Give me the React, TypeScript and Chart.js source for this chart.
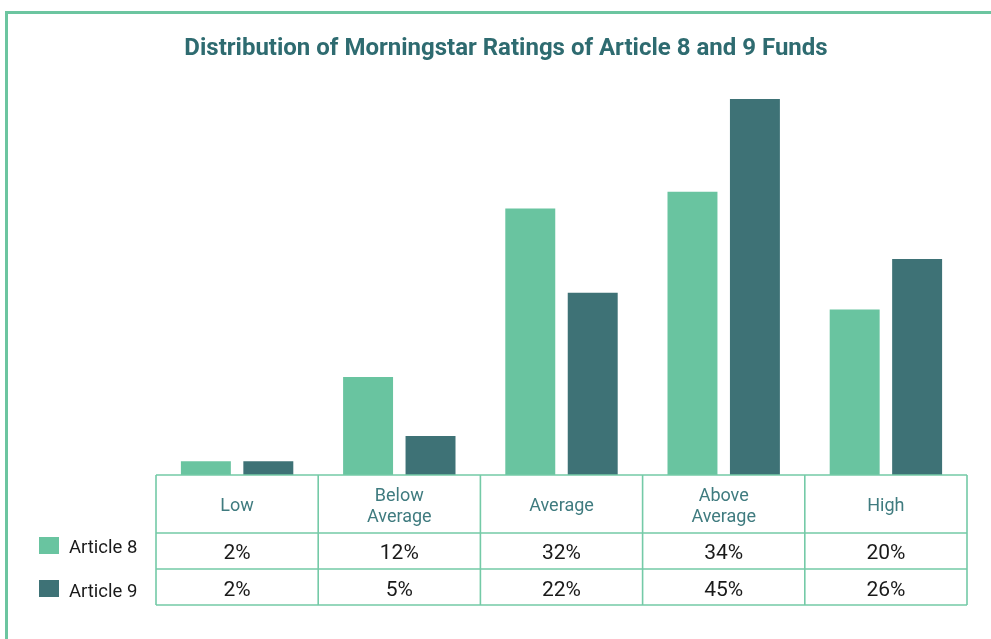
import React, { useEffect, useRef } from "react";
import { Chart, registerables } from "chart.js";

Chart.register(...registerables);

const TITLE = "Distribution of Morningstar Ratings of Article 8 and 9 Funds";
const categories: string[][] = [["Low"], ["Below", "Average"], ["Average"], ["Above", "Average"], ["High"]];
const seriesNames = ["Article 8", "Article 9"];
const article8 = [2, 12, 32, 34, 20];
const article9 = [2, 5, 22, 45, 26];
const seriesColors = ["#69c4a0", "#3e7276"];

const FRAME = "#6cc5a0";
const GRID = "#74caa7";
const TITLE_COLOR = "#2e6b70";
const HEADER_COLOR = "#3f7b7f";
const TEXT_COLOR = "#1a1a1a";
const FONT = "Roboto, 'Noto Sans', sans-serif";

const tablePlugin = {
  id: "tablePlugin",
  afterDraw(chart: any) {
    const ctx = chart.ctx as CanvasRenderingContext2D;
    const { left, right } = chart.chartArea;
    const n = categories.length;
    const colW = (right - left) / n;
    const top = 475;
    const hb = 533;
    const r1 = 569;
    const r2 = 605;
    ctx.save();
    // frame
    ctx.fillStyle = FRAME;
    ctx.fillRect(5, 11, chart.width - 5, 3);
    ctx.fillRect(5, 11, 3, chart.height - 11);

    // title
    ctx.fillStyle = TITLE_COLOR;
    ctx.font = `bold 24px ${FONT}`;
    ctx.textAlign = "center";
    ctx.textBaseline = "alphabetic";
    ctx.fillText(TITLE, 506, 55);

    // table background
    ctx.fillStyle = "#ffffff";
    ctx.fillRect(left, top, right - left, r2 - top);

    // grid lines
    ctx.strokeStyle = GRID;
    ctx.lineWidth = 1.6;
    ctx.beginPath();
    [top, hb, r1, r2].forEach((y) => {
      ctx.moveTo(left, y);
      ctx.lineTo(right, y);
    });
    for (let i = 0; i <= n; i++) {
      const x = left + i * colW;
      ctx.moveTo(x, top);
      ctx.lineTo(x, r2);
    }
    ctx.stroke();

    // header labels
    ctx.textAlign = "center";
    const xs = chart.scales.x;
    categories.forEach((lines, i) => {
      const cx = xs.getPixelForValue(i);
      ctx.font = `18px ${FONT}`;
      ctx.fillStyle = HEADER_COLOR;
      if (lines.length === 1) {
        ctx.fillText(lines[0], cx, 511);
      } else {
        ctx.fillText(lines[0], cx, 501);
        ctx.fillText(lines[1], cx, 522);
      }
      ctx.font = `21px ${FONT}`;
      ctx.fillStyle = TEXT_COLOR;
      ctx.fillText(`${article8[i]}%`, cx, 559);
      ctx.fillText(`${article9[i]}%`, cx, 596);
    });

    // legend
    ctx.textAlign = "left";
    ctx.font = `18.5px ${FONT}`;
    const legendY = [537, 580];
    const legendBase = [553, 597];
    seriesNames.forEach((name, i) => {
      ctx.fillStyle = seriesColors[i];
      ctx.fillRect(39, legendY[i], 20, 17);
      ctx.fillStyle = TEXT_COLOR;
      ctx.fillText(name, 69, legendBase[i]);
    });
    ctx.restore();
  },
};

export default function App() {
  const ref = useRef<HTMLCanvasElement>(null);
  useEffect(() => {
    if (!ref.current) return;
    const chart = new Chart(ref.current, {
      type: "bar",
      data: {
        labels: categories.map((c) => c.join(" ")),
        datasets: [
          { label: seriesNames[0], data: article8, backgroundColor: seriesColors[0], borderWidth: 0 },
          { label: seriesNames[1], data: article9, backgroundColor: seriesColors[1], borderWidth: 0 },
        ],
      },
      options: {
        animation: false,
        responsive: false,
        devicePixelRatio: 1,
        layout: { padding: { left: 156, right: 24, top: 99, bottom: 161 } },
        datasets: { bar: { categoryPercentage: 0.77, barPercentage: 0.8 } },
        scales: {
          x: { display: false, offset: true },
          y: { display: false, min: 0, max: 45 },
        },
        plugins: { legend: { display: false }, title: { display: false }, tooltip: { enabled: false } },
      },
      plugins: [tablePlugin],
    });
    return () => chart.destroy();
  }, []);
  return (
    <div style={{ position: "absolute", left: 0, top: 0, width: 991, height: 639, background: "#fff" }}>
      <canvas ref={ref} width={991} height={639} style={{ display: "block" }} />
    </div>
  );
}
